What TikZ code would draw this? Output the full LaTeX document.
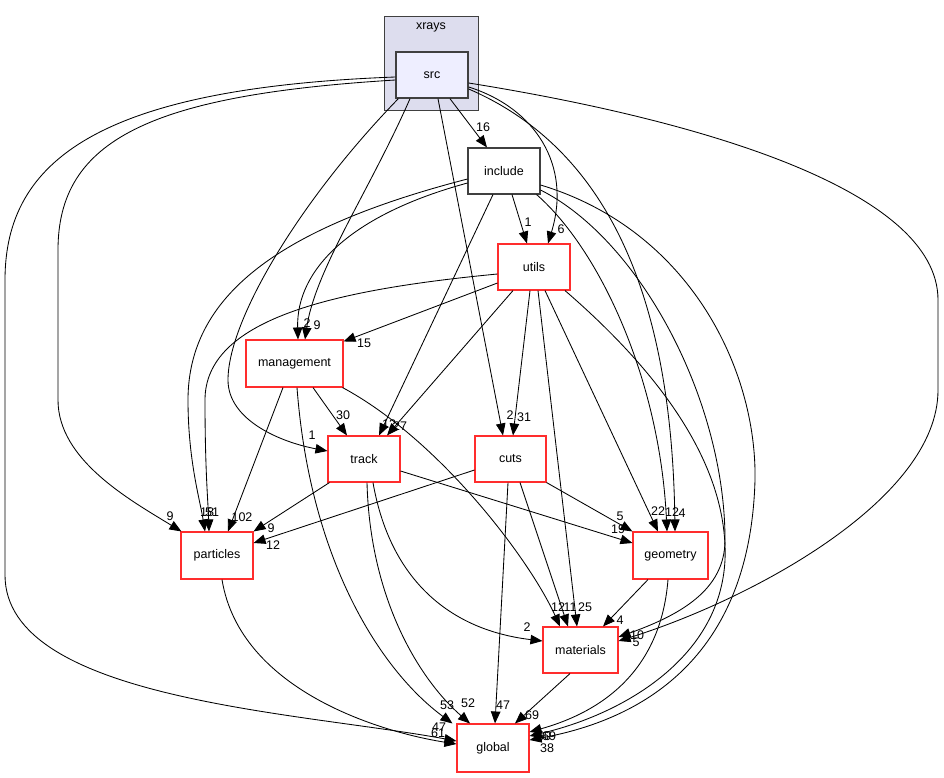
\documentclass[tikz,border=0pt]{standalone}
\usepackage{fontspec}
\setmainfont{Liberation Sans}
\usetikzlibrary{arrows.meta,calc}
\definecolor{boxred}{RGB}{255,45,45}
\definecolor{clusterfill}{RGB}{221,221,238}
\definecolor{srcfill}{RGB}{238,238,255}
\definecolor{darkb}{RGB}{64,64,64}
\newcommand\lblfont{\fontsize{12.5}{15}\selectfont}
\begin{document}
\begin{tikzpicture}[x=1pt,y=-1pt,
  rbox/.style={draw=boxred, line width=1.1pt, fill=white, minimum width=72pt, minimum height=46pt, inner sep=0pt, font=\lblfont},
  kbox/.style={draw=darkb, line width=1.1pt, fill=white, minimum width=72pt, minimum height=46pt, inner sep=0pt, font=\lblfont},
  cl/.style={draw=darkb, line width=1pt, fill=clusterfill, minimum width=94pt, minimum height=94pt, inner sep=0pt},
  e/.style={draw=black, line width=0.85pt, -{Triangle[length=12pt,width=9.5pt]}},
  lab/.style={font=\lblfont, inner sep=0pt}]
\useasboundingbox (0,0) rectangle (944,777);

% cluster
\node[cl] (xrays) at (431.5,63) {};
\node[lab] (xraysl) at (431,27) {xrays};
\node[kbox, fill=srcfill, line width=1.4pt] (src) at (432,75) {src};

% nodes
\node[kbox] (include) at (504,171) {include};
\node[rbox] (utils) at (534,267) {utils};
\node[rbox, minimum width=97pt, minimum height=47pt] (management) at (294.5,363.5) {management};
\node[rbox] (track) at (364,459) {track};
\node[rbox, minimum width=71pt] (cuts) at (510.5,459) {cuts};
\node[rbox, minimum height=47pt] (particles) at (217,555.5) {particles};
\node[rbox, minimum width=75pt, minimum height=47pt] (geometry) at (670.5,555.5) {geometry};
\node[rbox, minimum width=75pt] (materials) at (580.5,650) {materials};
\node[rbox, minimum height=48pt] (global) at (493,748) {global};

% edges from src
\draw[e] ($(src.south)+(18,0)$) -- ($(include.north)+(-17,0)$);
\draw[e] ($(src.east)+(0,12)$) .. controls (535,108) and (572,165) .. ($(utils.north)+(14,0)$);
\draw[e] ($(src.east)+(0,14)$) .. controls (610,150) and (672,300) .. ($(geometry.north)+(4.5,0)$);
\draw[e] ($(src.east)+(0,8)$) .. controls (700,120) and (938,190) .. (938,300) -- (938,390) .. controls (938,500) and (750,600) .. ($(materials.east)+(0,-9)$);
\draw[e] ($(src.west)+(0,5)$) .. controls (150,95) and (58,140) .. (58,250) -- (58,400) .. controls (58,460) and (130,500) .. ($(particles.north west)+(1,0)$);
\draw[e] ($(src.west)+(0,2)$) .. controls (100,88) and (5,160) .. (5,280) -- (5,575) .. controls (5,700) and (300,712) .. ($(global.west)+(0,-7)$);
\draw[e] ($(src.south west)+(3,0)$) .. controls (300,200) and (228,320) .. (228,380) .. controls (228,420) and (280,442) .. ($(track.west)+(0,-8)$);
\draw[e] ($(src.south)+(-22,0)$) .. controls (370,190) and (315,270) .. ($(management.north)+(10.5,0)$);
\draw[e] ($(src.south)+(6,0)$) -- ($(cuts.north)+(-7.5,0)$);

% edges from include
\draw[e] ($(include.south)+(8,0)$) -- ($(utils.north)+(-7,0)$);
\draw[e] ($(include.west)+(0,12)$) .. controls (350,215) and (296,270) .. ($(management.north)+(3.5,0)$);
\draw[e] ($(include.west)+(0,8)$) .. controls (290,225) and (188,290) .. (188,400) .. controls (188,460) and (200,500) .. ($(particles.north)+(-12,0)$);
\draw[e] ($(include.south)+(-11,0)$) -- ($(track.north)+(15,0)$);
\draw[e] ($(include.south east)+(-4,0)$) .. controls (600,250) and (660,380) .. ($(geometry.north)+(-3.5,0)$);
\draw[e] ($(include.east)+(0,19)$) .. controls (640,240) and (725,400) .. (725,540) .. controls (725,590) and (680,615) .. ($(materials.east)+(0,-13)$);
\draw[e] ($(include.east)+(0,14)$) .. controls (690,230) and (757,370) .. (755,480) .. controls (750,660) and (640,720) .. ($(global.east)+(0,-8)$);

% edges from utils
\draw[e] ($(utils.west)+(0,16)$) -- ($(management.north east)+(0,2)$);
\draw[e] ($(utils.west)+(0,7)$) .. controls (330,290) and (205,320) .. (205,400) .. controls (205,470) and (208,500) .. ($(particles.north)+(-8,0)$);
\draw[e] ($(utils.south)+(-21,0)$) -- ($(track.north)+(23,0)$);
\draw[e] ($(utils.south)+(-4,0)$) -- ($(cuts.north)+(2.5,0)$);
\draw[e] ($(utils.south)+(4,0)$) -- ($(materials.north)+(-3.5,0)$);
\draw[e] ($(utils.south)+(11,0)$) -- ($(geometry.north)+(-12.5,0)$);
\draw[e] ($(utils.south)+(31,0)$) .. controls (680,390) and (728,480) .. (725,560) .. controls (720,660) and (620,715) .. ($(global.east)+(0,-12)$);

% edges from management
\draw[e] ($(management.south)+(-11.5,0)$) -- ($(particles.north)+(11,0)$);
\draw[e] ($(management.south)+(18.5,0)$) -- ($(track.north)+(-17,0)$);
\draw[e] ($(management.south east)+(-1,0)$) .. controls (440,440) and (530,560) .. ($(materials.north)+(-20.5,0)$);
\draw[e] ($(management.south)+(2.5,0)$) .. controls (310,560) and (380,670) .. ($(global.north west)+(-4,0)$);

% edges from track
\draw[e] ($(track.south west)+(2,0)$) -- (particles.north east);
\draw[e] ($(track.east)+(0,12)$) -- ($(geometry.west)+(0,-12.5)$);
\draw[e] ($(track.south)+(3,0)$) .. controls (370,600) and (420,680) .. ($(global.north)+(-23,0)$);
\draw[e] ($(track.south)+(9,0)$) .. controls (390,580) and (450,630) .. ($(materials.west)+(0,-9)$);

% edges from cuts
\draw[e] ($(cuts.west)+(0,11)$) -- ($(particles.east)+(0,-12.5)$);
\draw[e] (cuts.south east) -- (geometry.north west);
\draw[e] ($(cuts.south)+(-2.5,0)$) -- ($(global.north)+(2,0)$);
\draw[e] ($(cuts.south)+(9.5,0)$) -- ($(materials.north)+(-12.5,0)$);

% remaining edges
\draw[e] ($(particles.south)+(5,0)$) .. controls (240,690) and (380,732) .. ($(global.west)+(0,-4)$);
\draw[e] ($(geometry.south)+(-22.5,0)$) -- ($(materials.north)+(22.5,0)$);
\draw[e] ($(geometry.south)+(-2.5,0)$) .. controls (660,680) and (590,715) .. ($(global.east)+(0,-16)$);
\draw[e] ($(materials.south)+(-10.5,0)$) -- ($(global.north)+(22,0)$);

% edge labels
\node[lab] (l1) at (483,127) {16};
\node[lab] (l2) at (561,229) {6};
\node[lab] (l3) at (528,222) {1};
\node[lab] (l4) at (317,325) {9};
\node[lab] (l5) at (307,323) {2};
\node[lab] (l6) at (364,343) {15};
\node[lab] (l7) at (312,435) {1};
\node[lab] (l8) at (343,415) {30};
\node[lab] (l9) at (389,424) {12};
\node[lab] (l10) at (400,426) {27};
\node[lab] (l11) at (510,415) {2};
\node[lab] (l12) at (524,417) {31};
\node[lab] (l13) at (170,516) {9};
\node[lab] (l14) at (207,512) {18};
\node[lab] (l15) at (212,512) {51};
\node[lab] (l16) at (242,517) {102};
\node[lab] (l17) at (271,528) {9};
\node[lab] (l18) at (273,545) {12};
\node[lab] (l19) at (658,511) {22};
\node[lab] (l20) at (672,512) {12};
\node[lab] (l21) at (682,513) {4};
\node[lab] (l22) at (620,516) {5};
\node[lab] (l23) at (618,529) {19};
\node[lab] (l24) at (558,607) {12};
\node[lab] (l25) at (570,607) {11};
\node[lab] (l26) at (585,607) {25};
\node[lab] (l27) at (527,627) {2};
\node[lab] (l28) at (620,620) {4};
\node[lab] (l29) at (637,635) {10};
\node[lab] (l30) at (636,642) {5};
\node[lab] (l31) at (447,705) {53};
\node[lab] (l32) at (468,703) {52};
\node[lab] (l33) at (503,705) {47};
\node[lab] (l34) at (532,715) {69};
\node[lab] (l35) at (439,727) {47};
\node[lab] (l36) at (438,733) {61};
\node[lab] (l37) at (544,736) {50};
\node[lab] (l38) at (549,736) {69};
\node[lab] (l39) at (547,748) {38};
\end{tikzpicture}
\end{document}
